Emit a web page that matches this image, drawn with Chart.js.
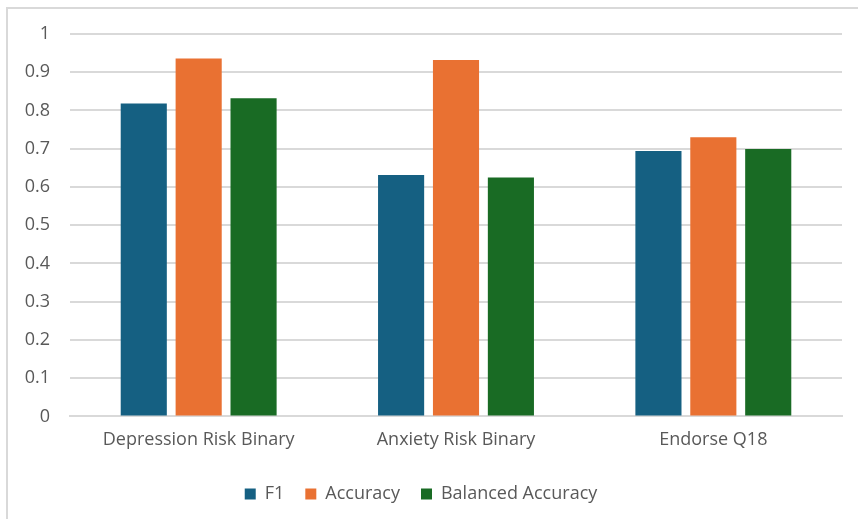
<!DOCTYPE html>
<html>
<head>
<meta charset="utf-8">
<script src="https://cdn.jsdelivr.net/npm/chart.js@4.4.1/dist/chart.umd.min.js"></script>
<style>
    html, body { margin: 0; padding: 0; background: #fff; }
    #wrap { position: relative; width: 858px; height: 519px; }
    #frame {
        position: absolute; left: 6px; top: 7px; right: 0; bottom: 0;
        border-left: 2px solid #d9d9d9; border-top: 2px solid #d9d9d9;
        pointer-events: none;
    }
</style>
</head>
<body>
<div id="wrap">
    <canvas id="myChart" width="858" height="519"></canvas>
    <div id="frame"></div>
</div>
<script>
    const categories = ['Depression Risk Binary', 'Anxiety Risk Binary', 'Endorse Q18'];
    const f1 = [0.818, 0.631, 0.694];
    const accuracy = [0.936, 0.932, 0.730];
    const balancedAccuracy = [0.832, 0.625, 0.699];
    const yTicks = [0, 0.1, 0.2, 0.3, 0.4, 0.5, 0.6, 0.7, 0.8, 0.9, 1];

    const textColor = '#595959';
    const gridColor = '#d9d9d9';
    const font = { family: '"Open Sans", sans-serif', size: 18 };

    let ctx = document.getElementById('myChart');

    let myChart = new Chart(ctx, {
        type: 'bar',
        data: {
            labels: categories,
            datasets: [{
                label: 'F1',
                data: f1,
                backgroundColor: '#156082'
            }, {
                label: 'Accuracy',
                data: accuracy,
                backgroundColor: '#e97132'
            }, {
                label: 'Balanced Accuracy',
                data: balancedAccuracy,
                backgroundColor: '#196b24'
            }]
        },
        options: {
            responsive: false,
            animation: false,
            layout: {
                padding: { left: 0, right: 16, top: 34, bottom: 6 }
            },
            datasets: {
                bar: {
                    categoryPercentage: 0.64,
                    barPercentage: 0.84
                }
            },
            scales: {
                x: {
                    grid: { display: false, drawTicks: false },
                    border: { color: gridColor, width: 2 },
                    ticks: { color: textColor, font: font, padding: 13, maxRotation: 0 }
                },
                y: {
                    min: 0,
                    max: 1,
                    afterBuildTicks: (scale) => {
                        scale.ticks = yTicks.map(v => ({ value: v }));
                    },
                    afterFit: (scale) => {
                        scale.width = 70;
                    },
                    grid: { color: gridColor, lineWidth: 2, drawTicks: false },
                    border: { display: false },
                    ticks: {
                        color: textColor,
                        font: font,
                        padding: 20,
                        callback: (value) => String(value)
                    }
                }
            },
            plugins: {
                tooltip: { enabled: false },
                legend: {
                    position: 'bottom',
                    labels: {
                        color: textColor,
                        font: font,
                        boxWidth: 11,
                        boxHeight: 11,
                        padding: 21
                    }
                }
            }
        }
    });
</script>
</body>
</html>
